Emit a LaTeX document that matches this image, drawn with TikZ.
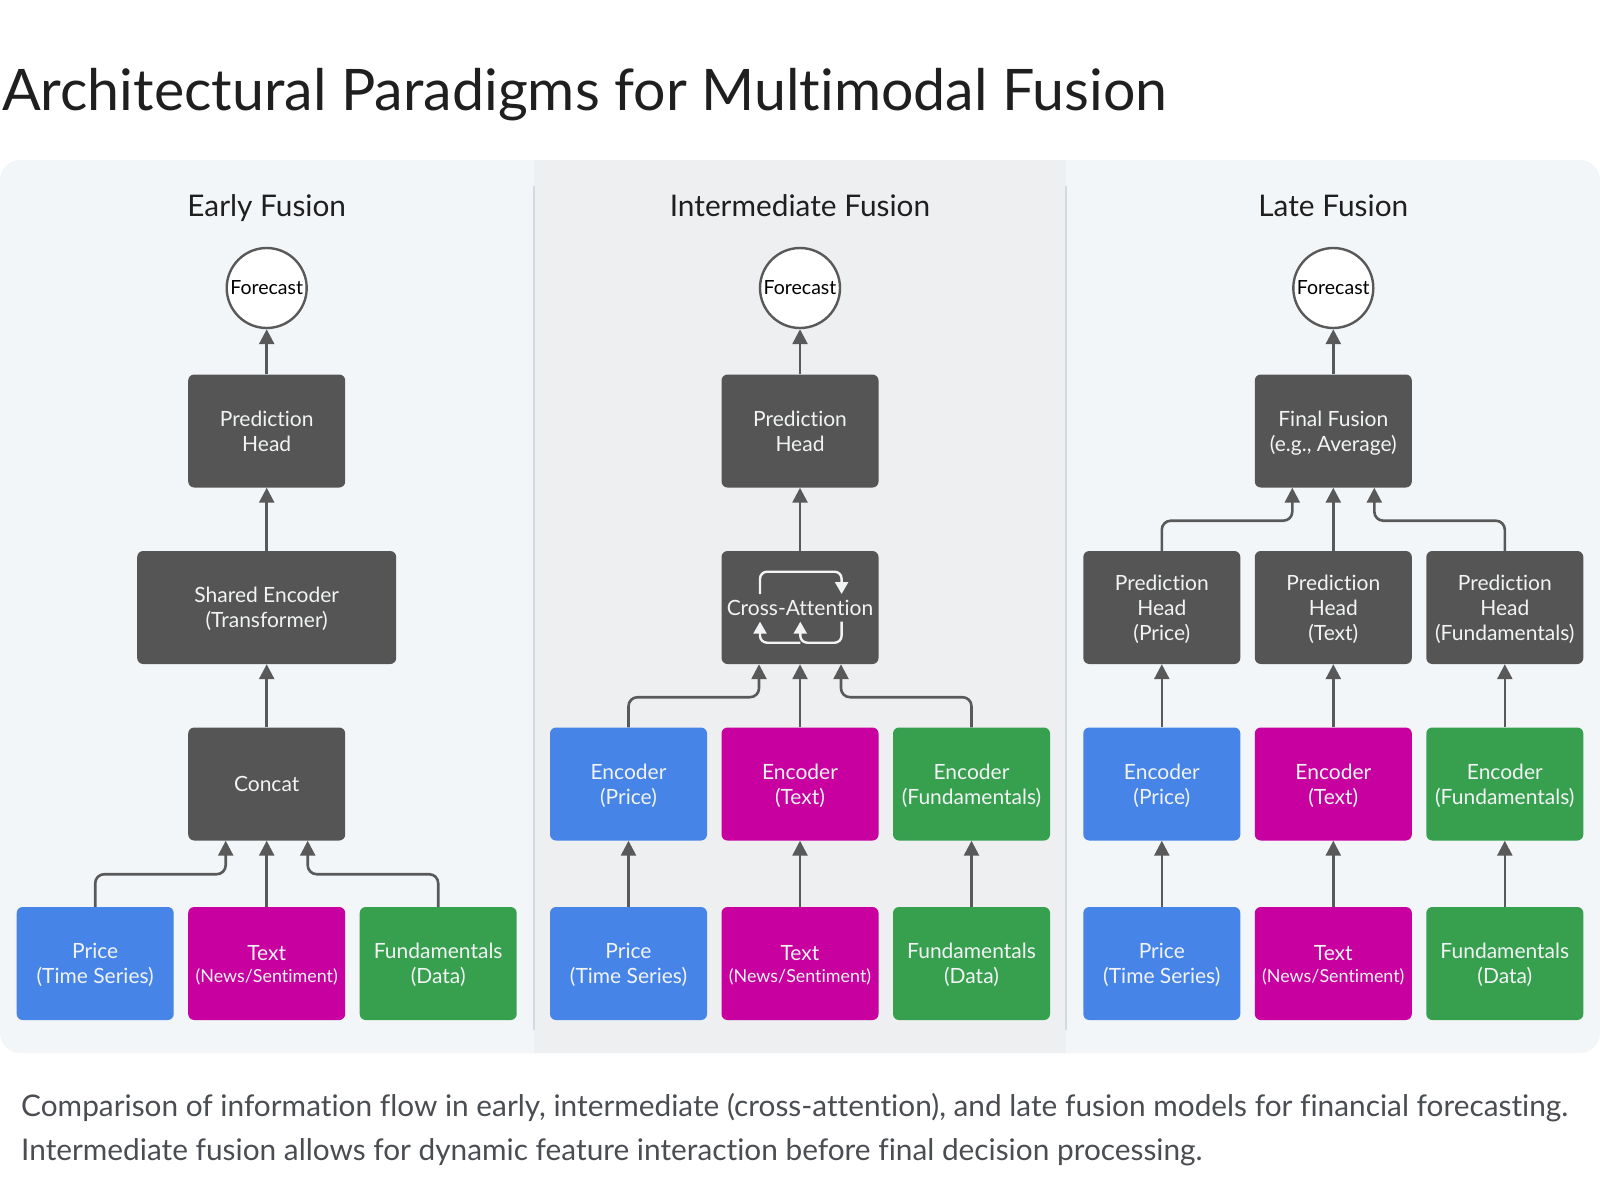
\documentclass[tikz,border=0pt]{standalone}
\usepackage{fontspec}
\setmainfont{Lato}[Ligatures=NoCommon]
\usetikzlibrary{arrows.meta,calc}
\definecolor{panelbg}{HTML}{F3F6F8}
\definecolor{midbg}{HTML}{EDEFF1}
\definecolor{sepline}{HTML}{D6D9DC}
\definecolor{darkbox}{HTML}{555555}
\definecolor{bluebox}{HTML}{4684E8}
\definecolor{magbox}{HTML}{C800A0}
\definecolor{greenbox}{HTML}{37A04F}
\definecolor{boxtext}{HTML}{F1F3F4}
\definecolor{arrowgray}{HTML}{595959}
\definecolor{titlecol}{HTML}{1F1F1F}
\definecolor{captioncol}{HTML}{4A4D51}
\newcommand\boxfont{\fontsize{21}{25}\selectfont}
\newcommand\smallboxfont{\fontsize{17.9}{21}\selectfont}
\begin{document}
\begin{tikzpicture}[x=1pt,y=-1pt,
  box/.style={rectangle, rounded corners=6pt, minimum width=157pt, minimum height=113pt,
    inner sep=0pt, align=center, text=boxtext, font=\boxfont, text depth=0pt},
  darkb/.style={box, fill=darkbox},
  blueb/.style={box, fill=bluebox},
  magb/.style={box, fill=magbox},
  greenb/.style={box, fill=greenbox},
  circ/.style={circle, draw=arrowgray, line width=2.4pt, fill=white, minimum size=80pt,
    inner sep=0pt, font=\fontsize{19.5}{22}\selectfont, text=black},
  arr/.style={draw=arrowgray, line width=2.6pt, -{Triangle[length=15pt,width=15pt]}},
  merge/.style={arr, rounded corners=9pt},
  icon/.style={draw=boxtext, line width=2.4pt, rounded corners=7pt, -{Triangle[length=12pt,width=13pt]}},
  colhead/.style={font=\fontsize{29.8}{33}\selectfont, text=titlecol, anchor=base},
  caption/.style={anchor=base west, inner sep=0pt, text=captioncol, font=\fontsize{29.8}{34}\selectfont},
]
\useasboundingbox (0,0) rectangle (1600,1200);
\fill[white] (0,0) rectangle (1600,1200);
% panels
\fill[panelbg, rounded corners=20pt] (0,160) rectangle (1600,1053);
\fill[midbg] (534,160) rectangle (1066,1053);
\draw[sepline, line width=2pt] (534,186) -- (534,1030);
\draw[sepline, line width=2pt] (1066,186) -- (1066,1030);

% title
\node[anchor=base west, inner sep=0pt, text=titlecol, font=\fontsize{57.3}{64}\selectfont] (title) at (2,110) {Architectural Paradigms for Multimodal Fusion};

% column headers
\node[colhead] (h1) at (266.7,216.5) {Early Fusion};
\node[colhead] (h2) at (800,216.5) {Intermediate Fusion};
\node[colhead] (h3) at (1333.3,216.5) {Late Fusion};

% ===== Early fusion =====
\node[circ] (ef) at (266.7,288) {Forecast};
\node[darkb] (eph) at (266.7,431) {Prediction\\Head};
\node[darkb, minimum width=259pt] (ese) at (266.7,607.5) {Shared Encoder\\(Transformer)};
\node[darkb] (ecc) at (266.7,784) {Concat};
\node[blueb] (ep) at (95.2,963.5) {Price\\(Time Series)};
\node[magb] (et) at (266.7,963.5) {Text\\[-3pt]{\smallboxfont (News/Sentiment)}};
\node[greenb] (eu) at (438.2,963.5) {Fundamentals\\(Data)};
\draw[arr] (eph.north) -- (ef.south);
\draw[arr] (ese.north) -- (eph.south);
\draw[arr] (ecc.north) -- (ese.south);
\draw[merge] (ep.north) |- ($(ecc.south)+(-41,33.5)$) -- ($(ecc.south)+(-41,0)$);
\draw[arr] (et.north) -- (ecc.south);
\draw[merge] (eu.north) |- ($(ecc.south)+(41,33.5)$) -- ($(ecc.south)+(41,0)$);

% ===== Intermediate fusion =====
\node[circ] (mf) at (800,288) {Forecast};
\node[darkb] (mph) at (800,431) {Prediction\\Head};
\node[darkb] (mca) at (800,607.5) {};
\node[text=boxtext, font=\boxfont, inner sep=0pt] (mcat) at (800,608) {Cross-Attention};
\draw[icon] (760,594) -- (760,571.7) -- (841.6,571.7) -- (841.6,594);
\draw[icon] (841.6,621.7) -- (841.6,642.7) -- (800.3,642.7) -- (800.3,621.7);
\draw[icon] (800.3,642.7) -- (760,642.7) -- (760,621.7);
\node[blueb] (mep) at (628.5,784) {Encoder\\(Price)};
\node[magb] (met) at (800,784) {Encoder\\(Text)};
\node[greenb] (meu) at (971.5,784) {Encoder\\(Fundamentals)};
\node[blueb] (mp) at (628.5,963.5) {Price\\(Time Series)};
\node[magb] (mt) at (800,963.5) {Text\\[-3pt]{\smallboxfont (News/Sentiment)}};
\node[greenb] (mu) at (971.5,963.5) {Fundamentals\\(Data)};
\draw[arr] (mph.north) -- (mf.south);
\draw[arr] (mca.north) -- (mph.south);
\draw[merge] (mep.north) |- ($(mca.south)+(-41,33)$) -- ($(mca.south)+(-41,0)$);
\draw[arr] (met.north) -- (mca.south);
\draw[merge] (meu.north) |- ($(mca.south)+(41,33)$) -- ($(mca.south)+(41,0)$);
\draw[arr] (mp.north) -- (mep.south);
\draw[arr] (mt.north) -- (met.south);
\draw[arr] (mu.north) -- (meu.south);

% ===== Late fusion =====
\node[circ] (lf) at (1333.3,288) {Forecast};
\node[darkb] (lff) at (1333.3,431) {Final Fusion\\(e.g., Average)};
\node[darkb] (lhp) at (1161.8,607.5) {Prediction\\Head\\(Price)};
\node[darkb] (lht) at (1333.3,607.5) {Prediction\\Head\\(Text)};
\node[darkb] (lhu) at (1504.8,607.5) {Prediction\\Head\\(Fundamentals)};
\node[blueb] (lep) at (1161.8,784) {Encoder\\(Price)};
\node[magb] (let) at (1333.3,784) {Encoder\\(Text)};
\node[greenb] (leu) at (1504.8,784) {Encoder\\(Fundamentals)};
\node[blueb] (lp) at (1161.8,963.5) {Price\\(Time Series)};
\node[magb] (lt) at (1333.3,963.5) {Text\\[-3pt]{\smallboxfont (News/Sentiment)}};
\node[greenb] (lu) at (1504.8,963.5) {Fundamentals\\(Data)};
\draw[arr] (lff.north) -- (lf.south);
\draw[merge] (lhp.north) |- ($(lff.south)+(-41,33)$) -- ($(lff.south)+(-41,0)$);
\draw[arr] (lht.north) -- (lff.south);
\draw[merge] (lhu.north) |- ($(lff.south)+(41,33)$) -- ($(lff.south)+(41,0)$);
\draw[arr] (lep.north) -- (lhp.south);
\draw[arr] (let.north) -- (lht.south);
\draw[arr] (leu.north) -- (lhu.south);
\draw[arr] (lp.north) -- (lep.south);
\draw[arr] (lt.north) -- (let.south);
\draw[arr] (lu.north) -- (leu.south);

% caption
\node[caption] (cap1) at (21,1116) {Comparison of information flow in early, intermediate (cross-attention), and late fusion models for financial forecasting.};
\node[caption] (cap2) at (21,1160) {Intermediate fusion allows for dynamic feature interaction before final decision processing.};
\end{tikzpicture}
\end{document}
